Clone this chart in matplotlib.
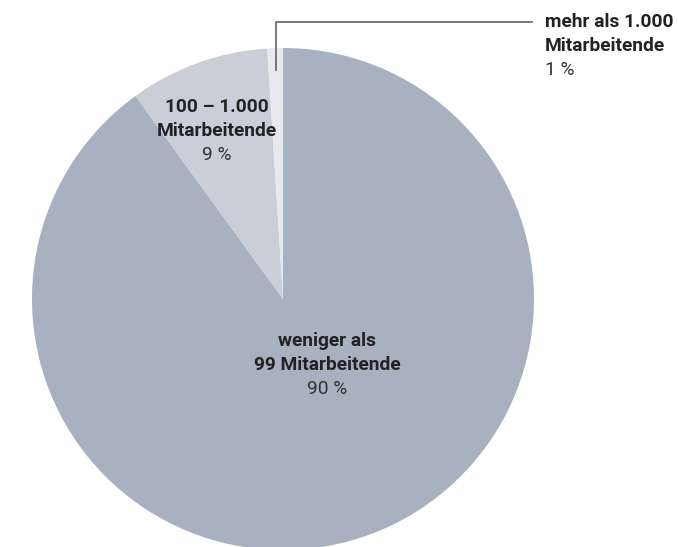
import matplotlib
matplotlib.use("Agg")
import matplotlib.pyplot as plt
from matplotlib.lines import Line2D

categories = ["weniger als\n99 Mitarbeitende", "100 – 1.000\nMitarbeitende", "mehr als 1.000\nMitarbeitende"]
values = [90, 9, 1]
pct_labels = ["90 %", "9 %", "1 %"]
colors = ["#A8B1C0", "#C9CED9", "#E8E9EF"]

W, H = 678, 547
fig = plt.figure(figsize=(W / 100, H / 100), dpi=100)
plt.rcParams['font.family'] = ['Roboto', 'DejaVu Sans']

cx, cy, r = 283, 299, 251
ax = fig.add_axes([(cx - r) / W, (H - cy - r) / H, 2 * r / W, 2 * r / H])
ax.pie(values, colors=colors, startangle=90, counterclock=False,
       wedgeprops=dict(linewidth=0))
ax.set_xlim(-1, 1)
ax.set_ylim(-1, 1)
ax.set_aspect('equal')
ax.axis('off')

def ftext(px, py, s, **kw):
    fig.text(px / W, 1 - py / H, s, **kw)

fs = 13.8
lh = 24
# big slice
bx, by = 327, 341
lines = categories[0].split("\n")
for i, ln in enumerate(lines):
    ftext(bx, by + i * lh, ln, ha='center', va='center', fontsize=fs, fontweight='bold', color='#222222')
ftext(bx, by + 2 * lh, pct_labels[0], ha='center', va='center', fontsize=fs, color='#333333')

# middle slice
mx, my = 217, 107
lines = categories[1].split("\n")
for i, ln in enumerate(lines):
    ftext(mx, my + i * lh, ln, ha='center', va='center', fontsize=fs, fontweight='bold', color='#222222')
ftext(mx, my + 2 * lh, pct_labels[1], ha='center', va='center', fontsize=fs, color='#333333')

# small slice (outside, left aligned)
sx, sy = 545, 22
lines = categories[2].split("\n")
for i, ln in enumerate(lines):
    ftext(sx, sy + i * lh, ln, ha='left', va='center', fontsize=fs, fontweight='bold', color='#222222')
ftext(sx, sy + 2 * lh, pct_labels[2], ha='left', va='center', fontsize=fs, color='#333333')

# leader line
xs = [276 / W, 276 / W, 532 / W]
ys = [1 - 70 / H, 1 - 22 / H, 1 - 22 / H]
fig.add_artist(Line2D(xs, ys, color='#6E6E6E', linewidth=1.3))

fig.savefig("out.png", dpi=100)
